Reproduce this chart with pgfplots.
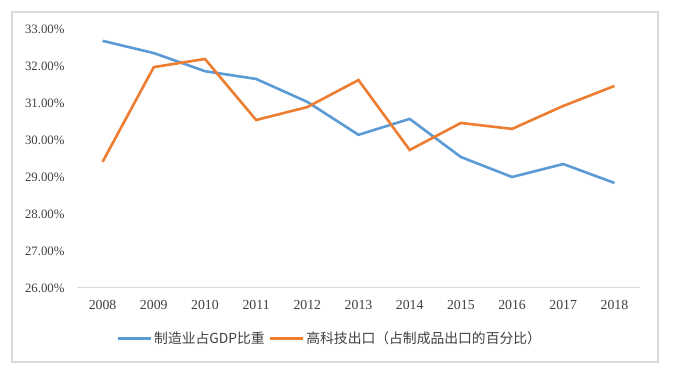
\documentclass[border=0pt]{standalone}
\usepackage{pgfplots}
\pgfplotsset{compat=1.18}
\usepackage{fontspec}
\setmainfont{Liberation Serif}
\newfontfamily\cjk{Noto Sans CJK SC}
\definecolor{cblue}{HTML}{5B9BD5}
\definecolor{corange}{HTML}{ED7D31}
\definecolor{cframe}{HTML}{DADADA}
\definecolor{caxis}{HTML}{D9D9D9}
\definecolor{ctext}{HTML}{404040}
\begin{document}
\begin{tikzpicture}
\path[fill=white] (0pt,0pt) rectangle (675pt,374pt);
\draw[cframe, line width=1.2pt] (12pt,12pt) rectangle (658pt,362pt);
\begin{axis}[
  at={(77pt,86pt)}, anchor=south west,
  scale only axis, width=563pt, height=259pt,
  xmin=-0.5, xmax=10.5, ymin=26, ymax=33,
  axis x line=bottom, axis y line=left,
  x axis line style={caxis, line width=1pt, -},
  y axis line style={draw=none},
  major tick length=0pt,
  xtick={0,...,10},
  xticklabels={2008,2009,2010,2011,2012,2013,2014,2015,2016,2017,2018},
  ytick={26,27,28,29,30,31,32,33},
  yticklabels={26.00\%,27.00\%,28.00\%,29.00\%,30.00\%,31.00\%,32.00\%,33.00\%},
  xticklabel style={font=\fontsize{13.8}{14}\selectfont, text=ctext, yshift=-9pt},
  yticklabel style={font=\fontsize{12.8}{14}\selectfont, text=ctext, xshift=-9pt},
  legend columns=2,
  legend style={draw=none, fill=none, at={(0.449,-0.195)}, anchor=center,
    font=\cjk\fontsize{13.8}{15}\selectfont, text=ctext,
    /tikz/every even column/.append style={column sep=2pt}},
  legend image code/.code={\draw[#1, line width=2.6pt] (0pt,0pt) -- (33pt,0pt);},
]
\addplot[cblue, line width=2.6pt] coordinates {
(0,32.68) (1,32.35) (2,31.86) (3,31.65) (4,31.03) (5,30.14) (6,30.57) (7,29.54) (8,29.0) (9,29.35) (10,28.84)};
\addlegendentry{制造业占GDP比重}
\addplot[corange, line width=2.6pt] coordinates {
(0,29.41) (1,31.97) (2,32.19) (3,30.54) (4,30.89) (5,31.62) (6,29.73) (7,30.46) (8,30.3) (9,30.92) (10,31.46)};
\addlegendentry{高科技出口（占制成品出口的百分比）}
\end{axis}
\end{tikzpicture}
\end{document}
